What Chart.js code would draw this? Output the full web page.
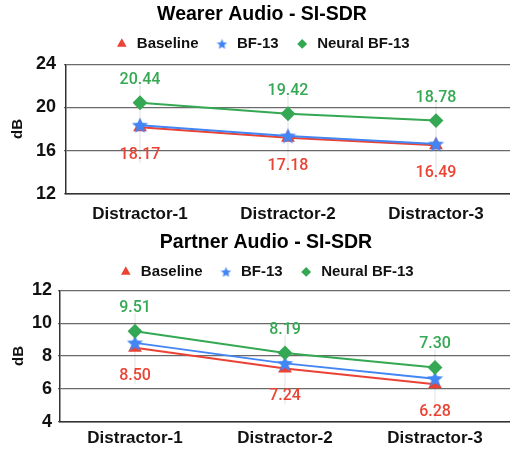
<!DOCTYPE html>
<html>
<head>
<meta charset="utf-8">
<script src="https://cdn.jsdelivr.net/npm/chart.js@4"></script>
<style>
  body { margin: 0; background: #fff; }
  .box { position: relative; width: 510px; height: 226px; }
</style>
</head>
<body>
<div class="box"><canvas id="wearer"></canvas></div>
<div class="box"><canvas id="partner"></canvas></div>
<script>
// data
const categories = ["Distractor-1", "Distractor-2", "Distractor-3"];
const seriesNames = ["Baseline", "BF-13", "Neural BF-13"];

const wearerBaseline = [18.17, 17.18, 16.49];
const wearerBF13 = [18.35, 17.35, 16.6];
const wearerNeural = [20.44, 19.42, 18.78];
const wearerTicks = [12, 16, 20, 24];

const partnerBaseline = [8.50, 7.24, 6.28];
const partnerBF13 = [8.8, 7.55, 6.62];
const partnerNeural = [9.51, 8.19, 7.30];
const partnerTicks = [4, 6, 8, 10, 12];

const colors = ["#ea4335", "#4285f4", "#34a853"];
const FONT = "'Liberation Sans', Arial, sans-serif";

// filled five point star used as point style
function starImage(size, color) {
  const c = document.createElement("canvas");
  c.width = size; c.height = size;
  const g = c.getContext("2d");
  const cx = size / 2, cy = size / 2 + size * 0.04;
  const ro = size / 2, ri = ro * 0.45;
  g.beginPath();
  for (let i = 0; i < 10; i++) {
    const r = i % 2 ? ri : ro;
    const a = -Math.PI / 2 + i * Math.PI / 5;
    g.lineTo(cx + r * Math.cos(a), cy + r * Math.sin(a));
  }
  g.closePath();
  g.fillStyle = color;
  g.fill();
  return c;
}
const bigStar = starImage(17, colors[1]);
const smallStar = starImage(11, colors[1]);

const shapes = ["triangle", bigStar, "rectRot"];
const radii = [6, 8, 6];

// value labels above neural, below baseline + faint guide lines
const labelPlugin = {
  id: "valueLabels",
  beforeDatasetsDraw(chart) {
    const ctx = chart.ctx;
    const base = chart.getDatasetMeta(0).data;
    const top = chart.getDatasetMeta(2).data;
    ctx.save();
    ctx.strokeStyle = "rgba(0,0,0,0.06)";
    ctx.lineWidth = 2;
    for (let i = 0; i < base.length; i++) {
      ctx.beginPath();
      ctx.moveTo(top[i].x, top[i].y - 18);
      ctx.lineTo(base[i].x, base[i].y + 36);
      ctx.stroke();
    }
    ctx.restore();
  },
  afterDatasetsDraw(chart) {
    const ctx = chart.ctx;
    ctx.save();
    ctx.font = "500 16px Roboto, sans-serif";
    ctx.textAlign = "center";
    ctx.textBaseline = "middle";
    [[2, -23], [0, 28]].forEach(([di, dy]) => {
      const ds = chart.data.datasets[di];
      ctx.fillStyle = colors[di];
      chart.getDatasetMeta(di).data.forEach((pt, i) => {
        ctx.fillText(ds.data[i].toFixed(2), pt.x, pt.y + dy);
      });
    });
    ctx.restore();
  }
};

function makeChart(id, title, series, ticks, lay) {
  return new Chart(id, {
    type: "line",
    data: {
      labels: categories,
      datasets: series.map((vals, i) => ({
        label: seriesNames[i],
        data: vals,
        order: 3 - i,
        borderColor: colors[i],
        backgroundColor: colors[i],
        pointStyle: shapes[i],
        pointRadius: radii[i],
        pointHoverRadius: radii[i],
        pointBorderWidth: 2,
        borderWidth: 2,
        fill: false
      }))
    },
    options: {
      responsive: true,
      maintainAspectRatio: false,
      animation: false,
      layout: {
        autoPadding: false,
        padding: { left: lay.left, right: lay.right, top: 0, bottom: lay.bottom }
      },
      plugins: {
        title: {
          display: true,
          text: title,
          color: "#000",
          font: { family: FONT, size: 19.5, weight: "bold", lineHeight: 1.2 },
          padding: { top: lay.titleTop, bottom: -6 }
        },
        subtitle: {
          display: true,
          text: "",
          weight: 500,
          font: { size: 1, lineHeight: 1 },
          padding: { top: lay.gap, bottom: 0 }
        },
        legend: {
          labels: {
            usePointStyle: true,
            boxWidth: 15,
            boxHeight: 5,
            color: "#111",
            font: { family: FONT, size: 15, weight: "bold" },
            padding: 16,
            sort: (a, b) => a.datasetIndex - b.datasetIndex,
            generateLabels: (chart) => {
              const items = Chart.defaults.plugins.legend.labels.generateLabels(chart);
              items.forEach(it => { if (it.datasetIndex === 1) it.pointStyle = smallStar; });
              return items;
            }
          }
        },
        tooltip: { enabled: false }
      },
      scales: {
        x: {
          offset: true,
          afterFit: (axis) => { axis.paddingLeft = 0; axis.paddingRight = lay.plotOver; },
          grid: { display: false, drawTicks: false },
          border: { color: "#333", width: 1.5 },
          ticks: { color: "#111", font: { family: FONT, size: 17, weight: "bold" }, padding: lay.xPad }
        },
        y: {
          min: ticks[0],
          max: ticks[ticks.length - 1],
          afterBuildTicks: (axis) => { axis.ticks = ticks.map(v => ({ value: v })); },
          afterFit: (axis) => { axis.width = lay.axisWidth; },
          title: {
            display: true, text: "dB", color: "#111",
            font: { family: FONT, size: 15, weight: "bold" },
            padding: { top: lay.dbPad, bottom: 0 }
          },
          grid: { color: "#6a6a6a", lineWidth: 1.3, tickLength: 2 },
          border: { color: "#333", width: 1.5 },
          ticks: { color: "#111", font: { family: FONT, size: 18, weight: "bold" }, padding: lay.tickPad }
        }
      }
    },
    plugins: [labelPlugin]
  });
}

makeChart("wearer", "Wearer Audio - SI-SDR", [wearerBaseline, wearerBF13, wearerNeural], wearerTicks,
  { left: 0, right: -14, bottom: -10, plotOver: -2, xPad: 11, axisWidth: 66, titleTop: 3, gap: 2, dbPad: 9, tickPad: 8 });
makeChart("partner", "Partner Audio - SI-SDR", [partnerBaseline, partnerBF13, partnerNeural], partnerTicks,
  { left: 4, right: -18, bottom: -4, plotOver: -6, xPad: 7, axisWidth: 56, titleTop: 5, gap: 0, dbPad: 6, tickPad: 6 });
</script>
</body>
</html>
